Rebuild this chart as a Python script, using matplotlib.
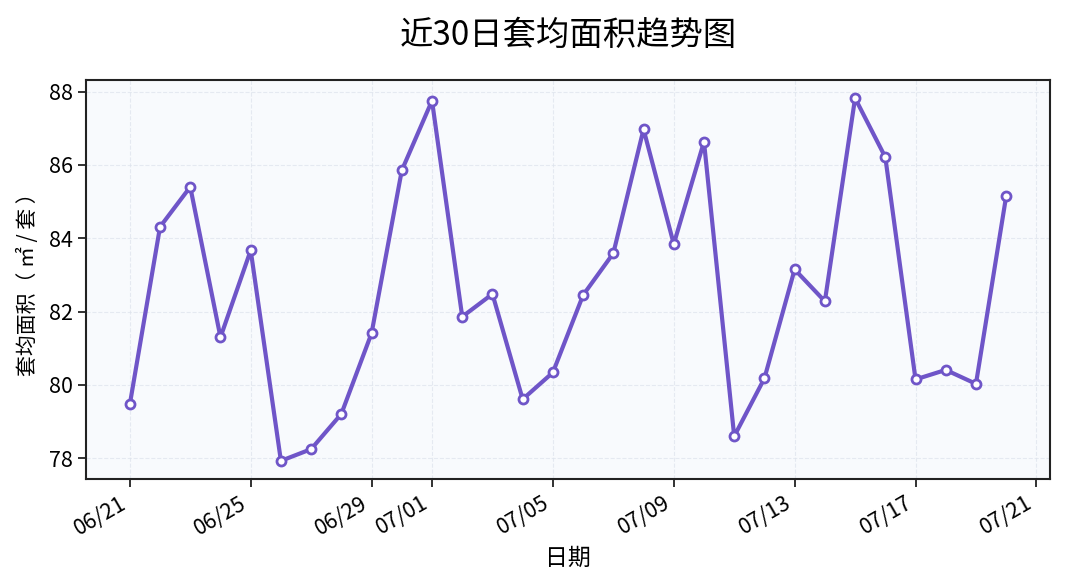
import matplotlib
matplotlib.use("Agg")
import matplotlib.pyplot as plt
import matplotlib.dates as mdates
import pandas as pd

plt.rcParams['font.family'] = ['Noto Sans CJK SC', 'DejaVu Sans']
plt.rcParams['axes.unicode_minus'] = False

dates = pd.date_range("2025-06-21", "2025-07-20", freq="D")
area = [79.47, 84.31, 85.40, 81.30, 83.67, 77.93, 78.25, 79.21, 81.41, 85.85,
        87.75, 81.86, 82.48, 79.61, 80.34, 82.45, 83.59, 86.97, 83.84, 86.63,
        78.60, 80.18, 83.15, 82.28, 87.82, 86.21, 80.15, 80.41, 80.03, 85.15]

title = "近30日套均面积趋势图"
xlabel = "日期"
ylabel = "套均面积（ ㎡ / 套 ）"

fig = plt.figure(figsize=(10.65, 5.88), dpi=100)
ax = fig.add_axes([86/1065, 1 - 479/588, (1050 - 86)/1065, (479 - 80)/588])
ax.set_facecolor('#F8FAFD')

ax.plot(dates, area, color='#6F55C8', linewidth=3.0, marker='o', markersize=6.5,
        markerfacecolor='white', markeredgecolor='#6F55C8', markeredgewidth=2.0,
        zorder=3)

ax.grid(True, linestyle='--', color='#DDE3EC', linewidth=0.8, alpha=0.7)
ax.xaxis.set_major_locator(mdates.DayLocator(bymonthday=[1, 5, 9, 13, 17, 21, 25, 29]))
ax.xaxis.set_major_formatter(mdates.DateFormatter('%m/%d'))
for lbl in ax.get_xticklabels():
    lbl.set_rotation(30)
    lbl.set_ha('right')

for s in ax.spines.values():
    s.set_linewidth(1.5)
    s.set_color('#222222')
ax.tick_params(axis='both', labelsize=15.5, width=1.3, length=6, color='#222222')

ax.set_title(title, fontsize=24, pad=25)
ax.set_xlabel(xlabel, fontsize=16.5, labelpad=5)
ax.set_ylabel(ylabel, fontsize=15, labelpad=7)

fig.savefig("out.png", dpi=100, facecolor='white')
